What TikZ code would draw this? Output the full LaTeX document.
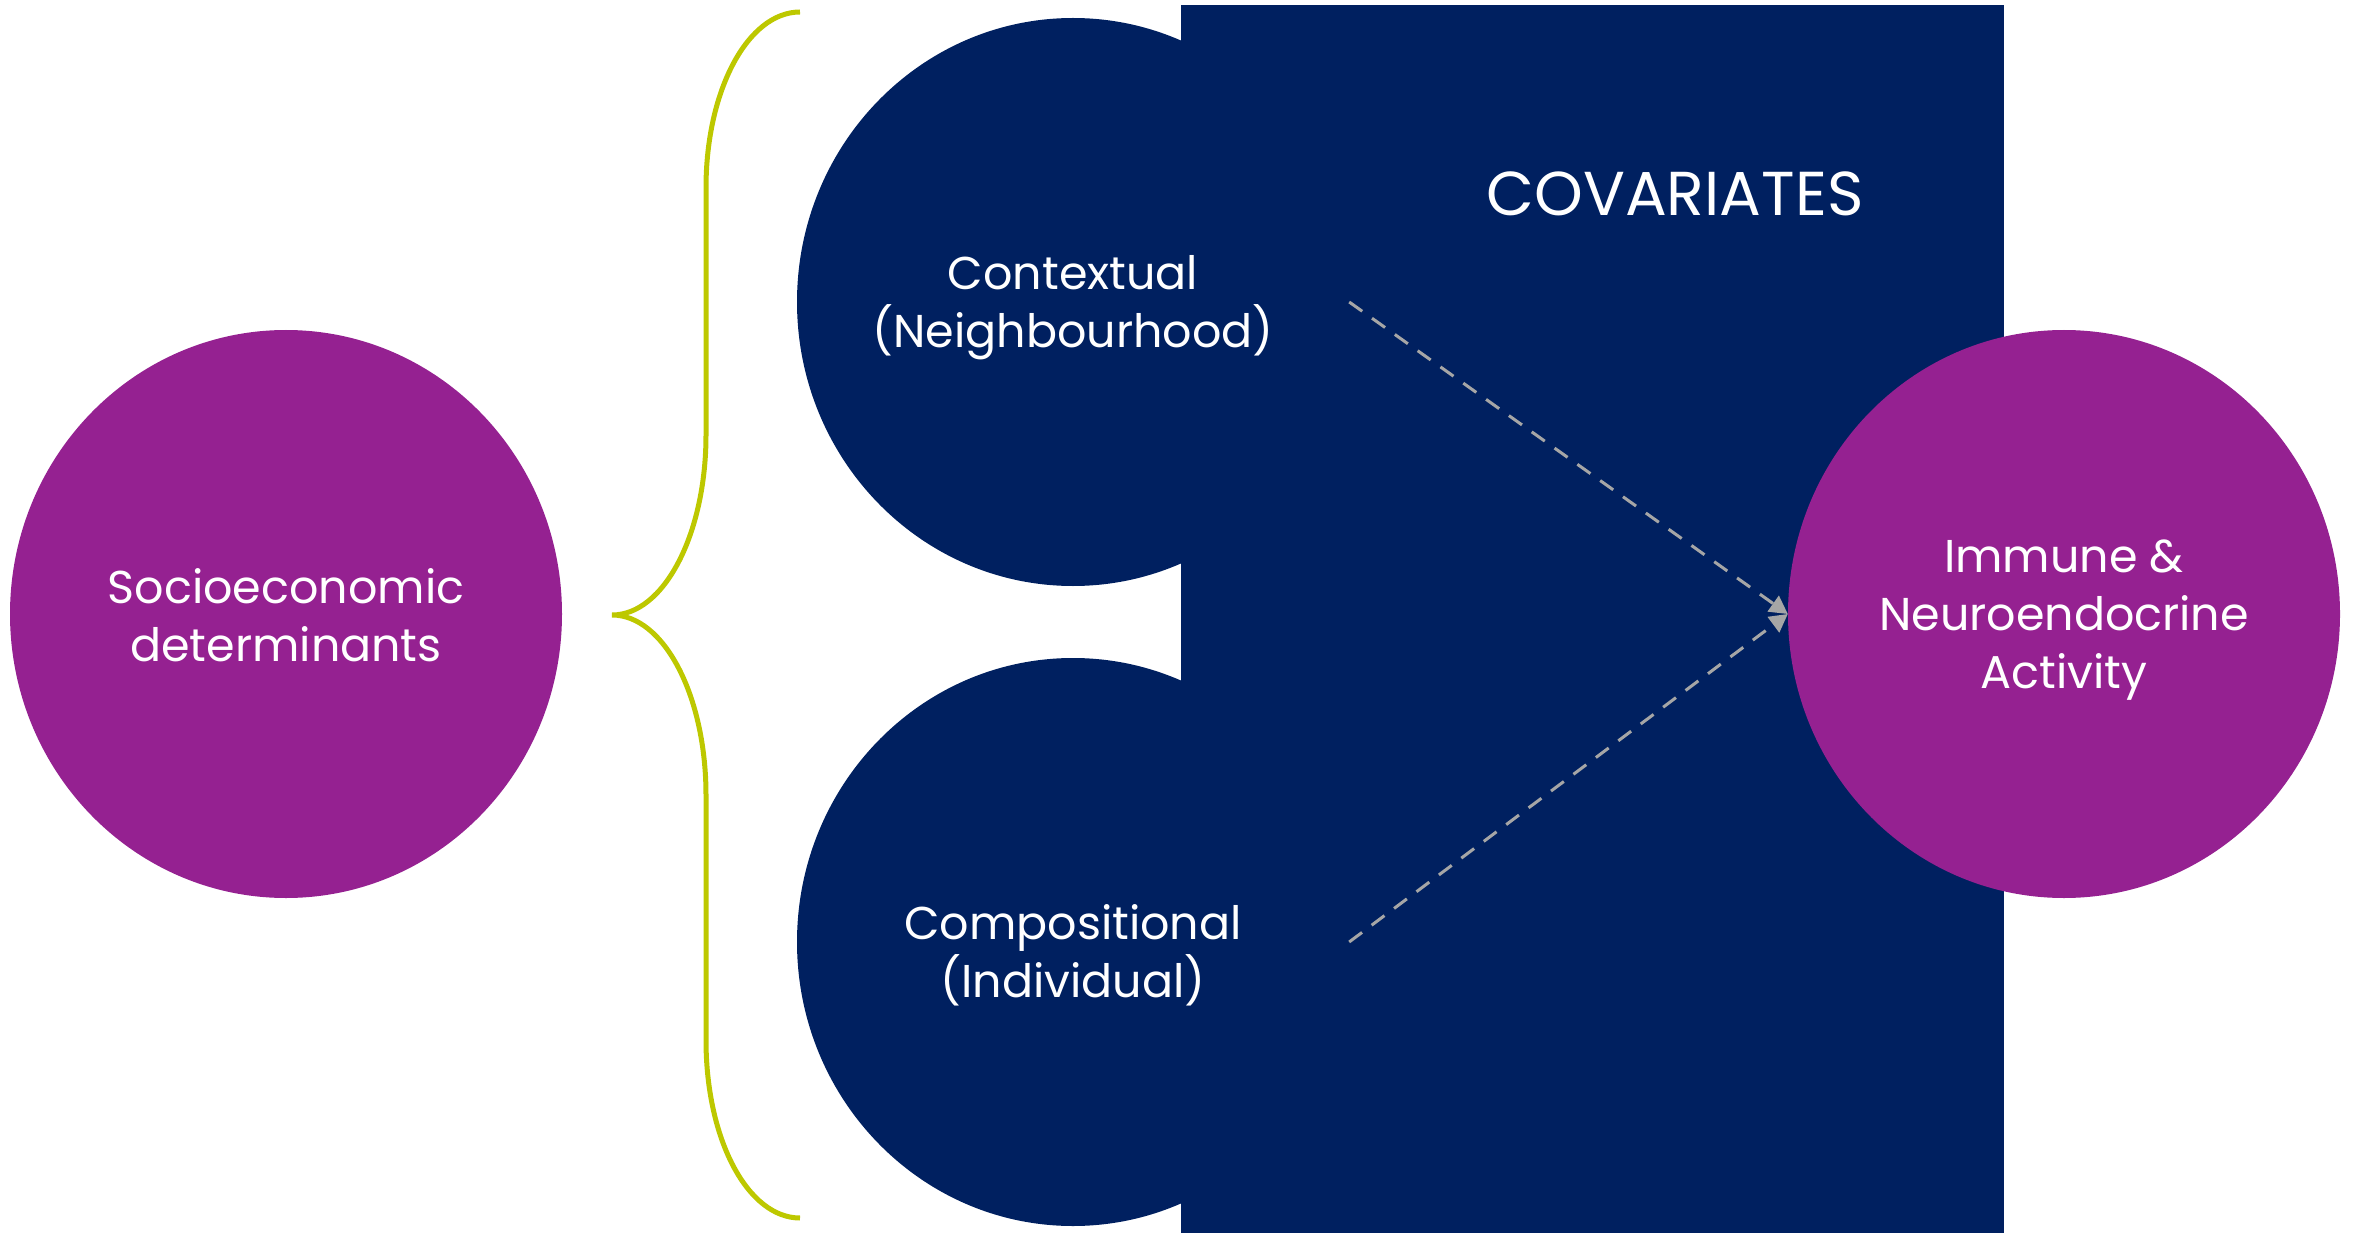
\documentclass[tikz,border=0pt]{standalone}
\usepackage{fontspec}
\setmainfont{Poppins}
\usepackage{tikz}
\usetikzlibrary{shapes.geometric,arrows.meta,positioning,calc}
\definecolor{darkblue}{HTML}{002060}
\definecolor{darkpurple}{HTML}{952191}
\definecolor{limegreen}{HTML}{BDC800}
\definecolor{arrowgray}{HTML}{A6A6A6}

\tikzset{
  blob/.style={ellipse, minimum width=552pt, minimum height=568pt, inner sep=0pt},
  blobtext/.style={align=center, text=white, font=\fontsize{46}{58}\selectfont},
  link/.style={arrowgray, line width=3pt, dash pattern=on 16pt off 12pt, -{Triangle[length=18pt,width=19pt]}}
}

\begin{document}
\begin{tikzpicture}[x=1pt,y=-1pt]
  \useasboundingbox (0,0) rectangle (2354,1233);

  % Covariates box
  \fill[darkblue] (1181,5) rectangle (2004,1233);
  \node[text=white,font=\fontsize{62}{72}\selectfont] (cov) at (1675,194) {COVARIATES};

  % Socioeconomic determinants
  \node[blob,fill=darkpurple] (ses) at (286,614) {};
  \node[blobtext] (sestext) at ($(ses)+(0,1)$) {Socioeconomic\\determinants};

  % Contextual and compositional
  \node[blob,fill=darkblue] (ctx) at (1073,302) {};
  \node[blobtext] (ctxtext) at ($(ctx)+(0,6)$) {Contextual\\(Neighbourhood)};
  \node[blob,fill=darkblue] (cmp) at (1073,942) {};
  \node[blobtext] (cmptext) at ($(cmp)+(0,13)$) {Compositional\\(Individual)};

  % Outcome
  \node[blob,fill=darkpurple] (out) at (2064,614) {};
  \node[blobtext] (outtext) at ($(out)+(0,6)$) {Immune \&\\Neuroendocrine\\Activity};

  % Brace
  \draw[limegreen,line width=5pt] (800,12) .. controls (748,12) and (706,90) .. (706,188)
    -- (706,435) .. controls (706,534) and (664,615) .. (612,615)
    .. controls (664,615) and (706,696) .. (706,795)
    -- (706,1040) .. controls (706,1140) and (748,1218) .. (800,1218);

  % Paths
  \draw[link] (ctx.east) -- (out.west);
  \draw[link] (cmp.east) -- (out.west);
\end{tikzpicture}
\end{document}
